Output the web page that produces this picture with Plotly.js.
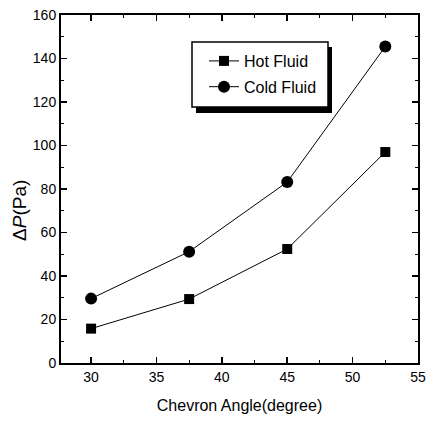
<!DOCTYPE html>
<html><head><meta charset="utf-8">
<script src="https://cdn.plot.ly/plotly-3.0.1.min.js"></script>
<style>body{margin:0;background:#fff}#chart{width:426px;height:421px}</style>
</head><body><div id="chart"></div>
<script>
const angles = [30, 37.5, 45, 52.5];
const hotFluid = [15.8, 29.4, 52.4, 97.0];
const coldFluid = [29.6, 51.2, 83.2, 145.5];
const seriesNames = ['Hot Fluid', 'Cold Fluid'];
const xTickVals = [30, 35, 40, 45, 50, 55];
const yTickVals = [0, 20, 40, 60, 80, 100, 120, 140, 160];
const xTitle = 'Chevron Angle(degree)';
const yTitle = 'Δ<i>P</i>(Pa)';

const font = {family: '"Liberation Sans", Arial, sans-serif', color: '#000'};

const traces = [
  {x: angles, y: hotFluid, name: seriesNames[0], mode: 'lines+markers', legendgroup: 'a',
   line: {color: '#000', width: 1}, marker: {symbol: 'square', size: 10, color: '#000'}},
  {x: angles, y: coldFluid, name: seriesNames[1], mode: 'lines+markers', legendgroup: 'b',
   line: {color: '#000', width: 1}, marker: {symbol: 'circle', size: 12, color: '#000'}}
];

const axisCommon = {
  showgrid: false, zeroline: false, showline: true, linecolor: '#000', linewidth: 2,
  mirror: 'allticks', ticks: 'inside', ticklen: 6, tickwidth: 1.5, tickcolor: '#000',
  tickfont: Object.assign({size: 14}, font)
};

// paper coordinate helpers (plot area 61..418 x, 15..363 y)
const px = v => (v - 61) / 357;
const py = v => 1 - (v - 15) / 348;

const layout = {
  width: 426, height: 421,
  margin: {l: 61, r: 8, t: 15, b: 58},
  paper_bgcolor: '#fff', plot_bgcolor: '#fff',
  showlegend: true,
  legend: {x: px(204), y: py(44), xanchor: 'left', yanchor: 'top',
           bgcolor: 'rgba(0,0,0,0)', borderwidth: 0,
           traceorder: 'grouped', tracegroupgap: 2,
           font: Object.assign({size: 16}, font)},
  xaxis: Object.assign({}, axisCommon, {
    range: [27.7, 55], tickvals: xTickVals, ticktext: xTickVals.map(String),
    minor: {dtick: 2.5, ticks: 'inside', ticklen: 3, tickcolor: '#000', tickwidth: 1},
    title: {text: xTitle, font: Object.assign({size: 16}, font), standoff: 16}
  }),
  yaxis: Object.assign({}, axisCommon, {
    range: [0, 160], tickvals: yTickVals, ticktext: yTickVals.map(String),
    minor: {dtick: 10, ticks: 'inside', ticklen: 3, tickcolor: '#000', tickwidth: 1}
  }),
  annotations: [
    {text: yTitle, xref: 'paper', yref: 'paper', x: px(19), y: py(211),
     xanchor: 'center', yanchor: 'middle', textangle: -90, showarrow: false,
     font: Object.assign({size: 19}, font)}
  ],
  shapes: [
    {type: 'rect', xref: 'paper', yref: 'paper', layer: 'above',
     x0: px(196), x1: px(332), y0: py(113), y1: py(47),
     fillcolor: '#000', line: {width: 0}},
    {type: 'rect', xref: 'paper', yref: 'paper', layer: 'above',
     x0: px(192), x1: px(328), y0: py(107), y1: py(42),
     fillcolor: '#fff', line: {color: '#000', width: 1.5}}
  ]
};

Plotly.newPlot('chart', traces, layout, {staticPlot: true});
</script>
</body></html>
